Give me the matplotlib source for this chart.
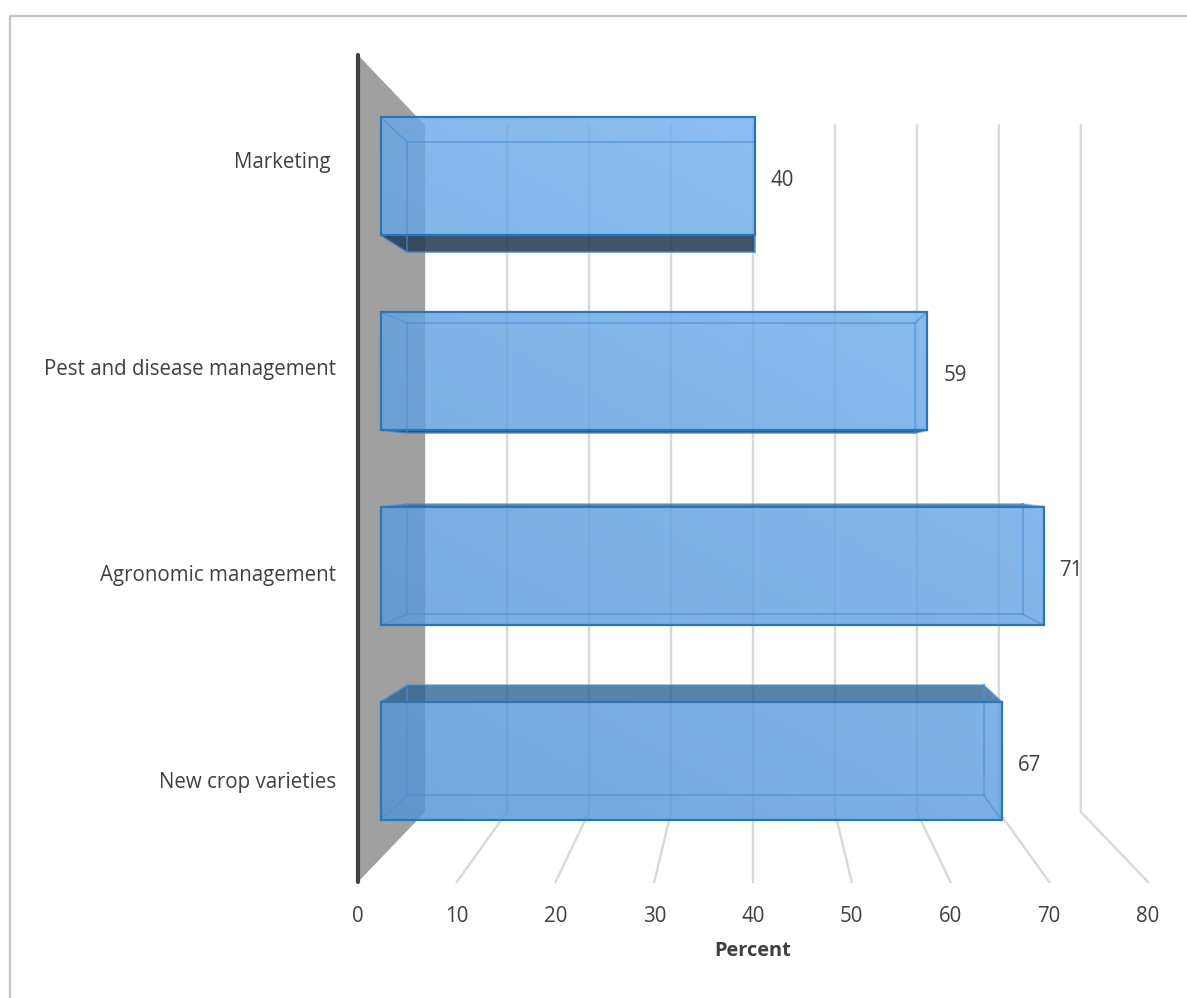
import matplotlib
matplotlib.use("Agg")
import matplotlib.pyplot as plt
import numpy as np
from matplotlib.lines import Line2D
from matplotlib.patches import Polygon
from matplotlib.transforms import ScaledTranslation

categories = ["New crop varieties", "Agronomic management", "Pest and disease management", "Marketing "]
value_labels = [67, 71, 59, 40]
# where the bars actually end when read against the axis
bar_ends = [66.7, 71.2, 58.7, 40.2]
x_ticks = [0, 10, 20, 30, 40, 50, 60, 70, 80]
x_label = "Percent"

W, H = 1187, 998
TEXT = "#404040"
GRID = "#D9D9D9"

# perspective of the 3D box: axis plane is scale 1, everything shrinks to the vanishing point
VANISH_V, VANISH_C = 40.0, 1.493
S_FRONT, S_BACK, S_WALL = 0.943, 0.875, 0.83
HALF = 0.304


def project(v, c, s):
    return VANISH_V + (v - VANISH_V) * s, VANISH_C + (c - VANISH_C) * s


def box(v0, v1, c0, c1, s0, s1):
    return [project(v0, c0, s0), project(v1, c0, s0), project(v1, c1, s1), project(v0, c1, s1)]


plt.rcParams["font.family"] = ["Open Sans", "DejaVu Sans"]
fig = plt.figure(figsize=(W / 100, H / 100), dpi=100)
ax = fig.add_axes([358 / W, 1 - 882 / H, (1148 - 358) / W, (882 - 55) / H])
ax.patch.set_alpha(0)
for sp in ax.spines.values():
    sp.set_visible(False)

# outer frame, only the left and top edges are visible
fig.add_artist(Line2D([10 / W, 10 / W, 1], [0, 1 - 16 / H, 1 - 16 / H], color="#C4C4C4", lw=1.6))

c_lo, c_hi = -0.5, 3.5

# gridlines on the back wall and the floor
for t in x_ticks[1:]:
    bx, by0 = project(t, c_lo, S_WALL)
    _, by1 = project(t, c_hi, S_WALL)
    ax.plot([t, bx, bx], [c_lo, by0, by1], color=GRID, lw=1.7, zorder=1, clip_on=False, solid_joinstyle="miter")

# side wall
ax.add_patch(Polygon([project(0, c_lo, 1), project(0, c_hi, 1), project(0, c_hi, S_WALL), project(0, c_lo, S_WALL)],
                     closed=True, facecolor="#A0A0A0", edgecolor="none", zorder=2, clip_on=False))
ax.plot([0, 0], [c_lo, c_hi], color="#404040", lw=3, zorder=3, solid_capstyle="round", clip_on=False)

# shared diagonal gradient for the bar fronts
xx, yy = np.meshgrid(np.linspace(0, 1, 200), np.linspace(0, 1, 200))
grad = np.clip(0.35 * xx + 0.65 * yy, 0, 1)
dark = np.array([0x4F, 0x91, 0xD2]) / 255
light = np.array([0x7A, 0xB8, 0xF6]) / 255
rgba = np.zeros((200, 200, 4))
for k in range(3):
    rgba[..., k] = dark[k] + (light[k] - dark[k]) * grad
rgba[..., 3] = 0.82

for i, (name, end, lab) in enumerate(zip(categories, bar_ends, value_labels)):
    c0, c1 = i - HALF, i + HALF
    front = box(0, end, c0, c1, S_FRONT, S_FRONT)
    back = box(0, end, c0, c1, S_BACK, S_BACK)

    # the visible outer face, above or below the front depending on the vanishing point
    if i < 2:
        top = [front[3], front[2], back[2], back[3]]
        ax.add_patch(Polygon(top, closed=True, facecolor="#296093", alpha=0.78, edgecolor="none", zorder=4))
    else:
        under = [front[0], front[1], back[1], back[0]]
        ax.add_patch(Polygon(under, closed=True, facecolor="#233D57", alpha=0.88, edgecolor="none", zorder=4))

    front_patch = Polygon(front, closed=True, facecolor="none", edgecolor="#2E75B6", lw=1.6, zorder=8)
    ax.add_patch(front_patch)
    im = ax.imshow(rgba, extent=[-5, 75, -0.5, 3.5], origin="lower", aspect="auto", zorder=5, interpolation="bilinear")
    im.set_clip_path(front_patch)

    # inner box edges seen through the front
    edges = list(zip(front, back)) + [(back[k], back[(k + 1) % 4]) for k in range(4)]
    for a, b in edges:
        ax.plot([a[0], b[0]], [a[1], b[1]], color="#4A90D6", lw=1.3, alpha=0.6, zorder=6, clip_on=False)

    ax.annotate(str(lab), xy=(front[1][0], (front[1][1] + front[2][1]) / 2), xytext=(16, -4), textcoords="offset pixels",
                ha="left", va="center", color=TEXT, fontsize=14.8, zorder=9, annotation_clip=False)

ax.set_xlim(0, 80)
ax.set_ylim(c_lo, c_hi)
ax.set_xticks(x_ticks)
ax.set_yticks(range(len(categories)))
ax.set_yticklabels(categories)
ax.tick_params(axis="both", length=0, labelcolor=TEXT, labelsize=14.8)
ax.tick_params(axis="x", pad=17)
ax.tick_params(axis="y", pad=16)
# category labels sit a little below their tick positions
shift = ScaledTranslation(0, -1.5 / 100, fig.dpi_scale_trans)
for tl in ax.get_yticklabels():
    tl.set_transform(tl.get_transform() + shift)
ax.set_xlabel(x_label, fontsize=14.4, fontweight="bold", color=TEXT, labelpad=10)

fig.savefig("out.png", dpi=100)
plt.close(fig)
